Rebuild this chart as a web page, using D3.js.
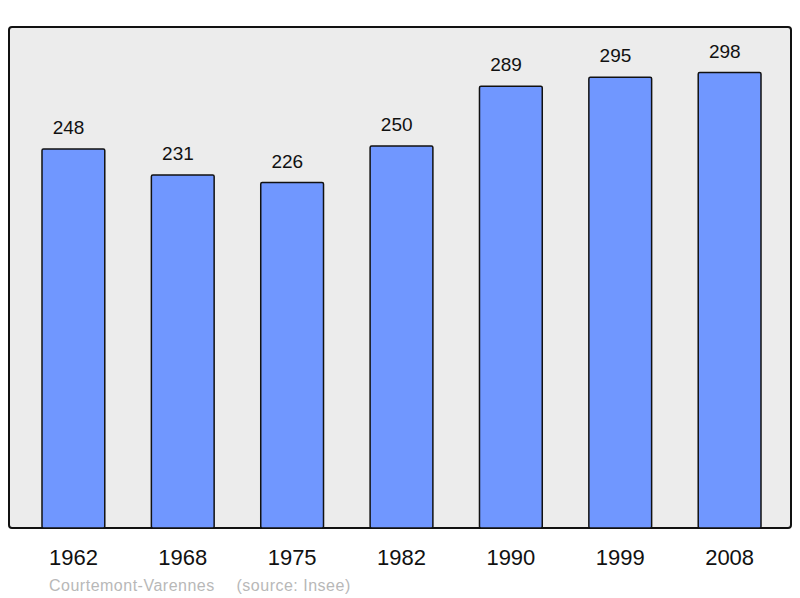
<!DOCTYPE html>
<html><head><meta charset="utf-8">
<script src="https://cdn.jsdelivr.net/npm/d3@7"></script>
<style>body{margin:0;background:#fff}svg{display:block}</style>
</head><body>
<script>
const years = ["1962","1968","1975","1982","1990","1999","2008"];
const population = [248,231,226,250,289,295,298];
const captionName = "Courtemont-Varennes";
const captionSource = "(source: Insee)";

const W=800,H=598;
const FONT="Liberation Sans, Arial, sans-serif";
const svg=d3.select("body").append("svg").attr("width",W).attr("height",H);
const pLeft=9,pRight=791,pTop=27,pBottom=528;
svg.append("rect").attr("x",pLeft).attr("y",pTop).attr("width",pRight-pLeft).attr("height",pBottom-pTop)
  .attr("rx",3).attr("fill","#ececec").attr("stroke","#111").attr("stroke-width",2);

const x=d3.scaleBand().domain(years).range([10.5,792.5]).paddingInner(0.426).paddingOuter(0.288);
const y=d3.scaleLinear().domain([0,d3.max(population)*1.1]).range([pBottom,pTop]);

svg.selectAll("rect.bar").data(population).join("rect").attr("class","bar")
  .attr("x",(d,i)=>x(years[i])).attr("width",x.bandwidth())
  .attr("y",d=>y(d)).attr("height",d=>pBottom-y(d))
  .attr("rx",1.5)
  .attr("fill","#7097ff").attr("stroke","#111").attr("stroke-width",1.5);

svg.selectAll("text.val").data(population).join("text").attr("class","val")
  .attr("x",(d,i)=>x(years[i])+x.bandwidth()/2-4.8).attr("y",d=>y(d)-15)
  .attr("text-anchor","middle").attr("font-family",FONT)
  .attr("font-size",19).attr("fill","#111").text(d=>d);

const xAxis=svg.append("g").attr("transform",`translate(0,${pBottom})`)
  .call(d3.axisBottom(x).tickSize(0).tickPadding(0));
xAxis.select(".domain").remove();
xAxis.selectAll("text").attr("dy",null).attr("y",37).attr("font-family",FONT).attr("font-size",22).attr("fill","#111");

svg.append("text").attr("x",49).attr("y",590.5).attr("font-family",FONT)
  .attr("font-size",16).attr("letter-spacing",0.5).attr("fill","#b8b8b8").text(captionName);
svg.append("text").attr("x",236.5).attr("y",590.5).attr("font-family",FONT)
  .attr("font-size",16).attr("letter-spacing",0.5).attr("fill","#b8b8b8").text(captionSource);
</script>
</body></html>
